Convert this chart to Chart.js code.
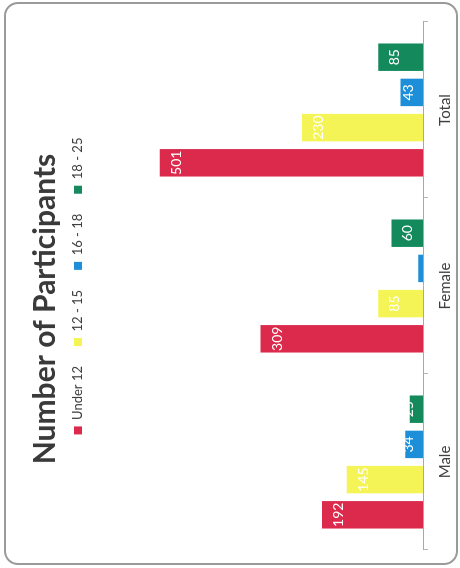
<!DOCTYPE html>
<html lang="en">
  <head>
    <meta charset="UTF-8" />
    <title>Number of Participants</title>
    <style>
      html, body { margin: 0; padding: 0; background: #fff; }
      body { width: 460px; height: 568px; position: relative; overflow: hidden; }
      /* chart is drawn upright, then turned a quarter turn to match the scan */
      #myChart {
        position: absolute;
        left: 0;
        top: 0;
        transform-origin: 0 0;
        transform: translateY(596px) rotate(-90deg);
      }
      .frame {
        position: absolute;
        left: 4px;
        top: 2px;
        width: 454px;
        height: 563px;
        box-sizing: border-box;
        border: 2px solid #9a9a9a;
        border-radius: 14px;
        pointer-events: none;
      }
    </style>
  </head>
  <body>
    <canvas id="myChart" width="596" height="460"></canvas>
    <div class="frame"></div>

    <script src="https://cdn.jsdelivr.net/npm/chart.js/dist/chart.umd.min.js"></script>
    <script>
      // data
      const categories = ['Male', 'Female', 'Total'];
      const ageGroups = ['Under 12', '12 - 15', '16 - 18', '18 - 25'];
      const under12 = [192, 309, 501];
      const age12to15 = [145, 85, 230];
      const age16to18 = [34, 9, 43];
      const age18to25 = [25, 60, 85];

      const colors = ['#dc2a4c', '#f4f456', '#1c8fd8', '#148a5c'];
      const series = [under12, age12to15, age16to18, age18to25];

      Chart.defaults.font.family = 'Lato, "Open Sans", sans-serif';
      Chart.defaults.color = '#404040';

      // white value labels just inside the end of each bar
      const valueLabels = {
        id: 'valueLabels',
        afterDatasetsDraw(chart) {
          const ctx = chart.ctx;
          ctx.save();
          ctx.font = '14px Lato, sans-serif';
          ctx.fillStyle = '#ffffff';
          ctx.textAlign = 'center';
          ctx.textBaseline = 'alphabetic';
          chart.data.datasets.forEach((ds, i) => {
            chart.getDatasetMeta(i).data.forEach((bar, j) => {
              const baseline = Math.min(bar.y + 21, bar.base - 10);
              ctx.fillText(String(ds.data[j]), bar.x, baseline);
            });
          });
          ctx.restore();
        }
      };

      const data = {
        labels: categories,
        datasets: ageGroups.map((name, i) => ({
          label: name,
          data: series[i],
          backgroundColor: colors[i],
          borderWidth: 0,
          categoryPercentage: 0.8,
          barPercentage: 0.78
        }))
      };

      const config = {
        type: 'bar',
        data,
        plugins: [valueLabels],
        options: {
          responsive: false,
          animation: false,
          events: [],
          layout: {
            padding: { left: 0, right: 22, top: 10, bottom: -2 }
          },
          plugins: {
            title: {
              display: true,
              text: 'Number of Participants',
              color: '#3a3a3a',
              font: { size: 30, weight: 'bold' },
              padding: { top: 17, bottom: -11.5 }
            },
            legend: {
              display: true,
              fullSize: false,
              labels: {
                boxWidth: 8,
                boxHeight: 8,
                padding: 20,
                color: '#404040',
                font: { size: 13 }
              }
            },
            tooltip: { enabled: false }
          },
          scales: {
            x: {
              grid: {
                display: true,
                drawOnChartArea: false,
                drawTicks: true,
                tickLength: 5,
                color: '#b5b5b5'
              },
              border: { display: true, color: '#a8a8a8', width: 1 },
              ticks: { padding: 8, color: '#404040', font: { size: 15 } }
            },
            y: {
              min: 0,
              max: 625,
              grid: { display: false },
              border: { display: false },
              ticks: { display: false },
              afterFit(scale) { scale.width = 46; }
            }
          }
        }
      };

      const myChart = new Chart(document.getElementById('myChart'), config);
    </script>
  </body>
</html>
